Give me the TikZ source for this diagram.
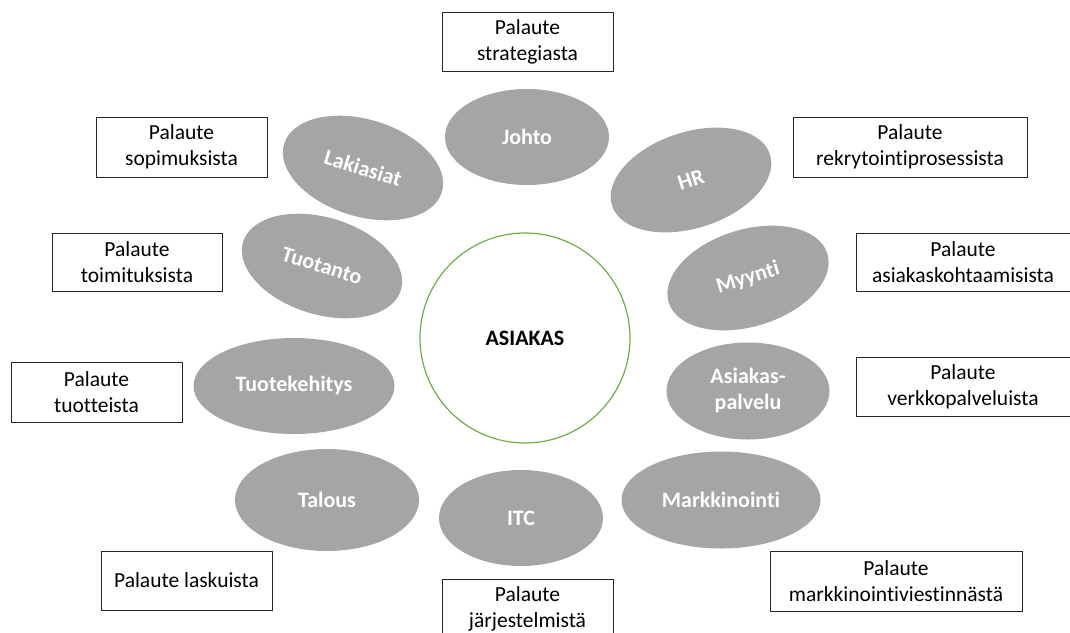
\documentclass[tikz,border=0pt]{standalone}
\usepackage{fontspec}
\setmainfont{Carlito}[Ligatures=CommonOff]
\usetikzlibrary{shapes.geometric}
\definecolor{ellgray}{HTML}{A5A5A5}
\definecolor{ringgreen}{HTML}{70AD47}
\definecolor{boxline}{HTML}{262626}
\tikzset{
  dept/.style={ellipse, fill=ellgray, draw=none, inner sep=0pt,
    text=white, font=\fontsize{22}{26}\selectfont\bfseries, align=center},
  fbox/.style={rectangle, draw=boxline, line width=1pt, fill=white, inner sep=0pt,
    minimum height=59pt, align=center, font=\fontsize{21.5}{26}\selectfont, text=black},
  hub/.style={circle, draw=ringgreen, line width=1.2pt, inner sep=0pt,
    minimum size=210pt, font=\fontsize{22}{26}\selectfont\bfseries, text=black}
}
\begin{document}
\begin{tikzpicture}[x=1pt,y=-1pt]
\useasboundingbox (0,0) rectangle (1070,632);
% centre
\node[hub] (asiakas) at (525,338) {ASIAKAS};
% departments
\node[dept, minimum width=164pt, minimum height=96pt] (johto) at (527,137) {Johto};
\node[dept, minimum width=166pt, minimum height=96pt, rotate=18] (hr) at (691,180) {HR};
\node[dept, minimum width=166pt, minimum height=97pt, rotate=17] (myynti) at (748,278) {Myynti};
\node[dept, minimum width=163pt, minimum height=97pt] (asp) at (748,391) {Asiakas-\\palvelu};
\node[dept, minimum width=199pt, minimum height=97pt] (mark) at (721,500) {Markkinointi};
\node[dept, minimum width=164pt, minimum height=96pt] (itc) at (521,518) {ITC};
\node[dept, minimum width=184pt, minimum height=102pt] (talous) at (327,500) {Talous};
\node[dept, minimum width=201pt, minimum height=96pt] (tke) at (294,386) {Tuotekehitys};
\node[dept, minimum width=165pt, minimum height=97pt, rotate=-17] (tuotanto) at (322,266) {Tuotanto};
\node[dept, minimum width=165pt, minimum height=97pt, rotate=-17] (laki) at (363,168) {Lakiasiat};
% feedback boxes
\node[fbox, minimum width=171pt] (fstrat) at (527.5,42) {Palaute\\strategiasta};
\node[fbox, minimum width=171pt, minimum height=60pt] (fsop) at (181.5,147) {Palaute\\sopimuksista};
\node[fbox, minimum width=234pt, minimum height=60pt] (frek) at (910,147) {Palaute\\rekrytointiprosessista};
\node[fbox, minimum width=170pt, minimum height=58pt] (ftoim) at (137,262) {Palaute\\toimituksista};
\node[fbox, minimum width=214pt, minimum height=58pt] (fask) at (963,262) {Palaute\\asiakaskohtaamisista};
\node[fbox, minimum width=171pt, minimum height=60pt] (ftuot) at (96.5,392) {Palaute\\tuotteista};
\node[fbox, minimum width=214pt] (fverk) at (963,386.5) {Palaute\\verkkopalveluista};
\node[fbox, minimum width=171pt] (flask) at (186.5,580.5) {Palaute laskuista};
\node[fbox, minimum width=171pt] (fjarj) at (527.5,608.5) {Palaute\\järjestelmistä};
\node[fbox, minimum width=252pt, minimum height=60pt] (fmark) at (896,581) {Palaute\\markkinointiviestinnästä};
\end{tikzpicture}
\end{document}
